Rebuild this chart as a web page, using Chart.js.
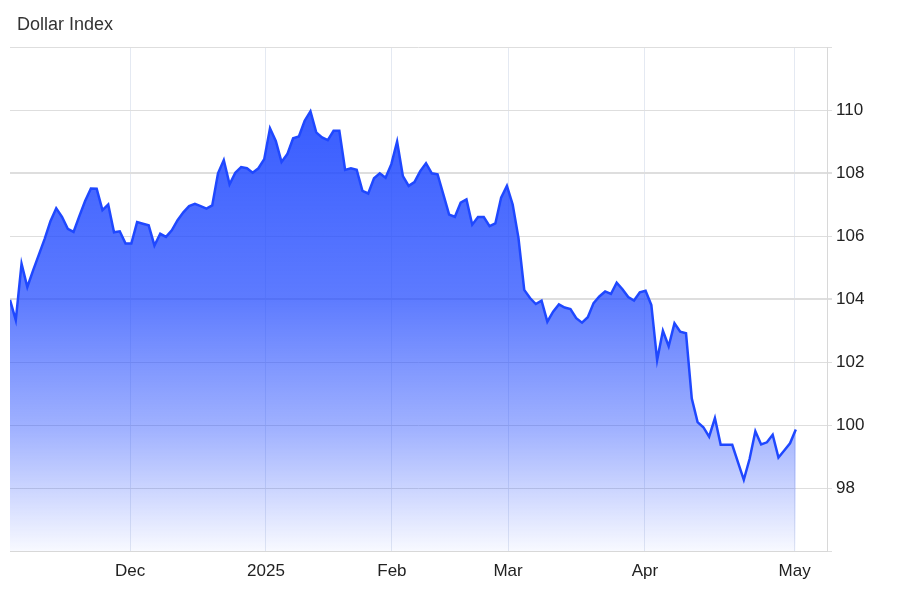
<!DOCTYPE html>
<html>
<head>
<meta charset="utf-8">
<script src="https://cdn.jsdelivr.net/npm/chart.js@4.4.1/dist/chart.umd.min.js"></script>
<style>
  body { margin: 0; background: #fff; }
  #wrap { position: relative; width: 900px; height: 600px; }
  #title { position: absolute; left: 17px; top: 14px; font: 18px/20px "Liberation Sans", Arial, sans-serif; color: #333; }
</style>
</head>
<body>
<div id="wrap">
  <div id="title">Dollar Index</div>
  <canvas id="myChart" width="900" height="600"></canvas>
</div>
<script>
// trading session number (0 = first session shown) and index close
var sessions = [];
for (var i = 0; i <= 136; i++) sessions.push(i);

var dollarIndex = [
  103.97, 103.33, 105.12, 104.38, 104.91, 105.41, 105.91, 106.47, 106.88, 106.61,
  106.23, 106.13, 106.63, 107.11, 107.51, 107.50, 106.82, 107.00, 106.12, 106.15,
  105.76, 105.76, 106.44, 106.39, 106.34, 105.70, 106.07, 105.97, 106.18, 106.50,
  106.75, 106.95, 107.02, 106.95, 106.87, 106.97, 107.99, 108.41, 107.64, 108.01,
  108.19, 108.15, 108.01, 108.15, 108.44, 109.42, 109.02, 108.35, 108.60, 109.10,
  109.16, 109.66, 109.96, 109.29, 109.13, 109.04, 109.34, 109.34, 108.10, 108.15,
  108.10, 107.43, 107.35, 107.83, 107.99, 107.85, 108.28, 109.00, 107.90, 107.59,
  107.71, 108.06, 108.31, 107.99, 107.96, 107.32, 106.68, 106.61, 107.06, 107.16,
  106.36, 106.60, 106.60, 106.31, 106.40, 107.22, 107.59, 107.00, 105.94, 104.29,
  104.03, 103.84, 103.95, 103.28, 103.60, 103.83, 103.73, 103.68, 103.39, 103.25,
  103.42, 103.87, 104.08, 104.24, 104.16, 104.52, 104.31, 104.06, 103.95, 104.21,
  104.26, 103.81, 102.06, 102.99, 102.50, 103.23, 102.96, 102.91, 100.84, 100.09,
  99.93, 99.63, 100.22, 99.37, 99.37, 99.37, 98.81, 98.26, 98.92, 99.80,
  99.38, 99.45, 99.69, 98.97, 99.19, 99.42, 99.86
];

// month boundaries on the session axis
var monthTicks = [20.8, 44.3, 66.1, 86.2, 109.9, 135.8];
var monthLabels = ['Dec', '2025', 'Feb', 'Mar', 'Apr', 'May'];

var points = sessions.map(function (s, k) { return { x: s, y: dollarIndex[k] }; });

var font = { family: '"Liberation Sans", Arial, sans-serif', size: 17 };

var ctx = document.getElementById('myChart');
var myChart = new Chart(ctx, {
  type: 'line',
  data: {
    datasets: [{
      data: points,
      borderColor: '#1f48ff',
      borderWidth: 2.5,
      pointRadius: 0,
      tension: 0,
      fill: 'start',
      backgroundColor: function (c) {
        var a = c.chart.chartArea;
        if (!a) return 'rgba(31,72,255,0.5)';
        var g = c.chart.ctx.createLinearGradient(0, a.top, 0, a.bottom);
        g.addColorStop(0, 'rgba(31,72,255,0.95)');
        g.addColorStop(0.5, 'rgba(31,72,255,0.72)');
        g.addColorStop(0.76, 'rgba(31,72,255,0.42)');
        g.addColorStop(1, 'rgba(31,72,255,0.03)');
        return g;
      }
    }]
  },
  options: {
    responsive: false,
    animation: false,
    layout: { padding: { left: 10, top: 47, right: 0, bottom: 0 } },
    plugins: { legend: { display: false }, tooltip: { enabled: false } },
    scales: {
      x: {
        type: 'linear',
        min: 0,
        max: 141.4,
        afterBuildTicks: function (s) {
          s.ticks = monthTicks.map(function (v) { return { value: v }; });
        },
        afterFit: function (s) { s.height = 49; },
        ticks: {
          autoSkip: false,
          maxRotation: 0,
          padding: 10,
          color: '#222',
          font: font,
          callback: function (v, i) { return monthLabels[i]; }
        },
        grid: { color: '#e4e9f2', drawTicks: false },
        border: { color: '#d8d8d8' }
      },
      y: {
        position: 'right',
        min: 96,
        max: 112,
        afterFit: function (s) { s.width = 73; },
        ticks: {
          stepSize: 2,
          padding: 4,
          color: '#222',
          font: font,
          callback: function (v) { return (v === 96 || v === 112) ? '' : v; }
        },
        grid: {
          color: '#dedede',
          tickLength: 5,
          lineWidth: function (c) {
            return (c.tick && (c.tick.value === 104 || c.tick.value === 108)) ? 2 : 1;
          }
        },
        border: { color: '#d8d8d8' }
      }
    }
  }
});
</script>
</body>
</html>
